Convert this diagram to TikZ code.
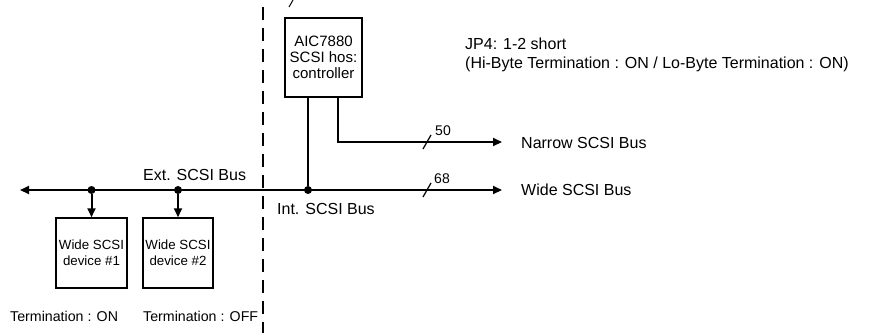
\documentclass[tikz,border=0pt]{standalone}
\usepackage{fontspec}
\setmainfont{Liberation Sans}
\usetikzlibrary{arrows.meta}
\begin{document}
\begin{tikzpicture}[x=1pt,y=-1pt,
  wire/.style={line width=2pt},
  bus/.style={wire,-{Triangle[length=9pt,width=8pt]}},
  box/.style={draw,line width=1.5pt,fill=white,inner sep=0pt,align=center},
  lbl/.style={inner sep=0pt,anchor=west,font=\fontsize{16}{17}\selectfont},
  small/.style={lbl,font=\fontsize{14.2}{15}\selectfont},
  dot/.style={circle,fill,inner sep=0pt,minimum size=8pt},
  wdth/.style={inner sep=0pt,font=\fontsize{14}{15}\selectfont}]
\useasboundingbox (0,0) rectangle (872,333);

% boundary between external and internal cabling
\draw[line width=2pt,dash pattern=on 13pt off 8pt] (263,7) -- (263,333);
\draw[line width=1pt] (289,7) -- (293,0);

% host adapter
\node[box,minimum width=77pt,minimum height=79pt,font=\fontsize{15}{16}\selectfont]
  (ctrl) at (323.5,57.5) {AIC7880\\SCSI hos:\\controller};

% SCSI devices on the external cable
\node[box,minimum width=71pt,minimum height=70pt,font=\fontsize{13.3}{16}\selectfont]
  (dev1) at (91.5,253) {Wide SCSI\\device \#1};
\node[box,minimum width=70pt,minimum height=70pt,font=\fontsize{13.3}{16}\selectfont]
  (dev2) at (178,253) {Wide SCSI\\device \#2};

% bus junctions and ends
\coordinate (left) at (20,190);
\coordinate (wend) at (502,190);
\coordinate (nend) at (502,142);
\node[dot] (j1) at (dev1.north |- 0,190) {};
\node[dot] (j2) at (dev2.north |- 0,190) {};
\node[dot] (j3) at (308,190) {};
\coordinate (nturn) at (338,142);

% wide bus through the whole system
\draw[wire,{Triangle[length=9pt,width=8pt]}-{Triangle[length=9pt,width=8pt]}] (left) -- (wend);
\draw[bus] (j1) -- (dev1.north);
\draw[bus] (j2) -- (dev2.north);
\draw[wire] (ctrl.south -| j3) -- (j3);
\draw[bus] (ctrl.south -| nturn) -- (nturn) -- (nend);

% bus width marks
\draw[line width=1.2pt] (423,149) -- (431,135);
\draw[line width=1.2pt] (423,197) -- (431,183);
\node[wdth] (w50) at (443,131) {50};
\node[wdth] (w68) at (442,179) {68};

% labels
\node[lbl] (lnarrow) at (521,143) {Narrow SCSI Bus};
\node[lbl] (lwide) at (521,190) {Wide SCSI Bus};
\node[lbl] (lext) at (143,175) {Ext. SCSI Bus};
\node[lbl] (lint) at (277,209) {Int. SCSI Bus};
\node[small] (t1) at (10,316) {Termination : ON};
\node[small] (t2) at (143,316) {Termination : OFF};
\node[lbl] (jp1) at (465,44) {JP4: 1-2 short};
\node[lbl] (jp2) at (465,64) {(Hi-Byte Termination : ON / Lo-Byte Termination : ON)};
\end{tikzpicture}
\end{document}
